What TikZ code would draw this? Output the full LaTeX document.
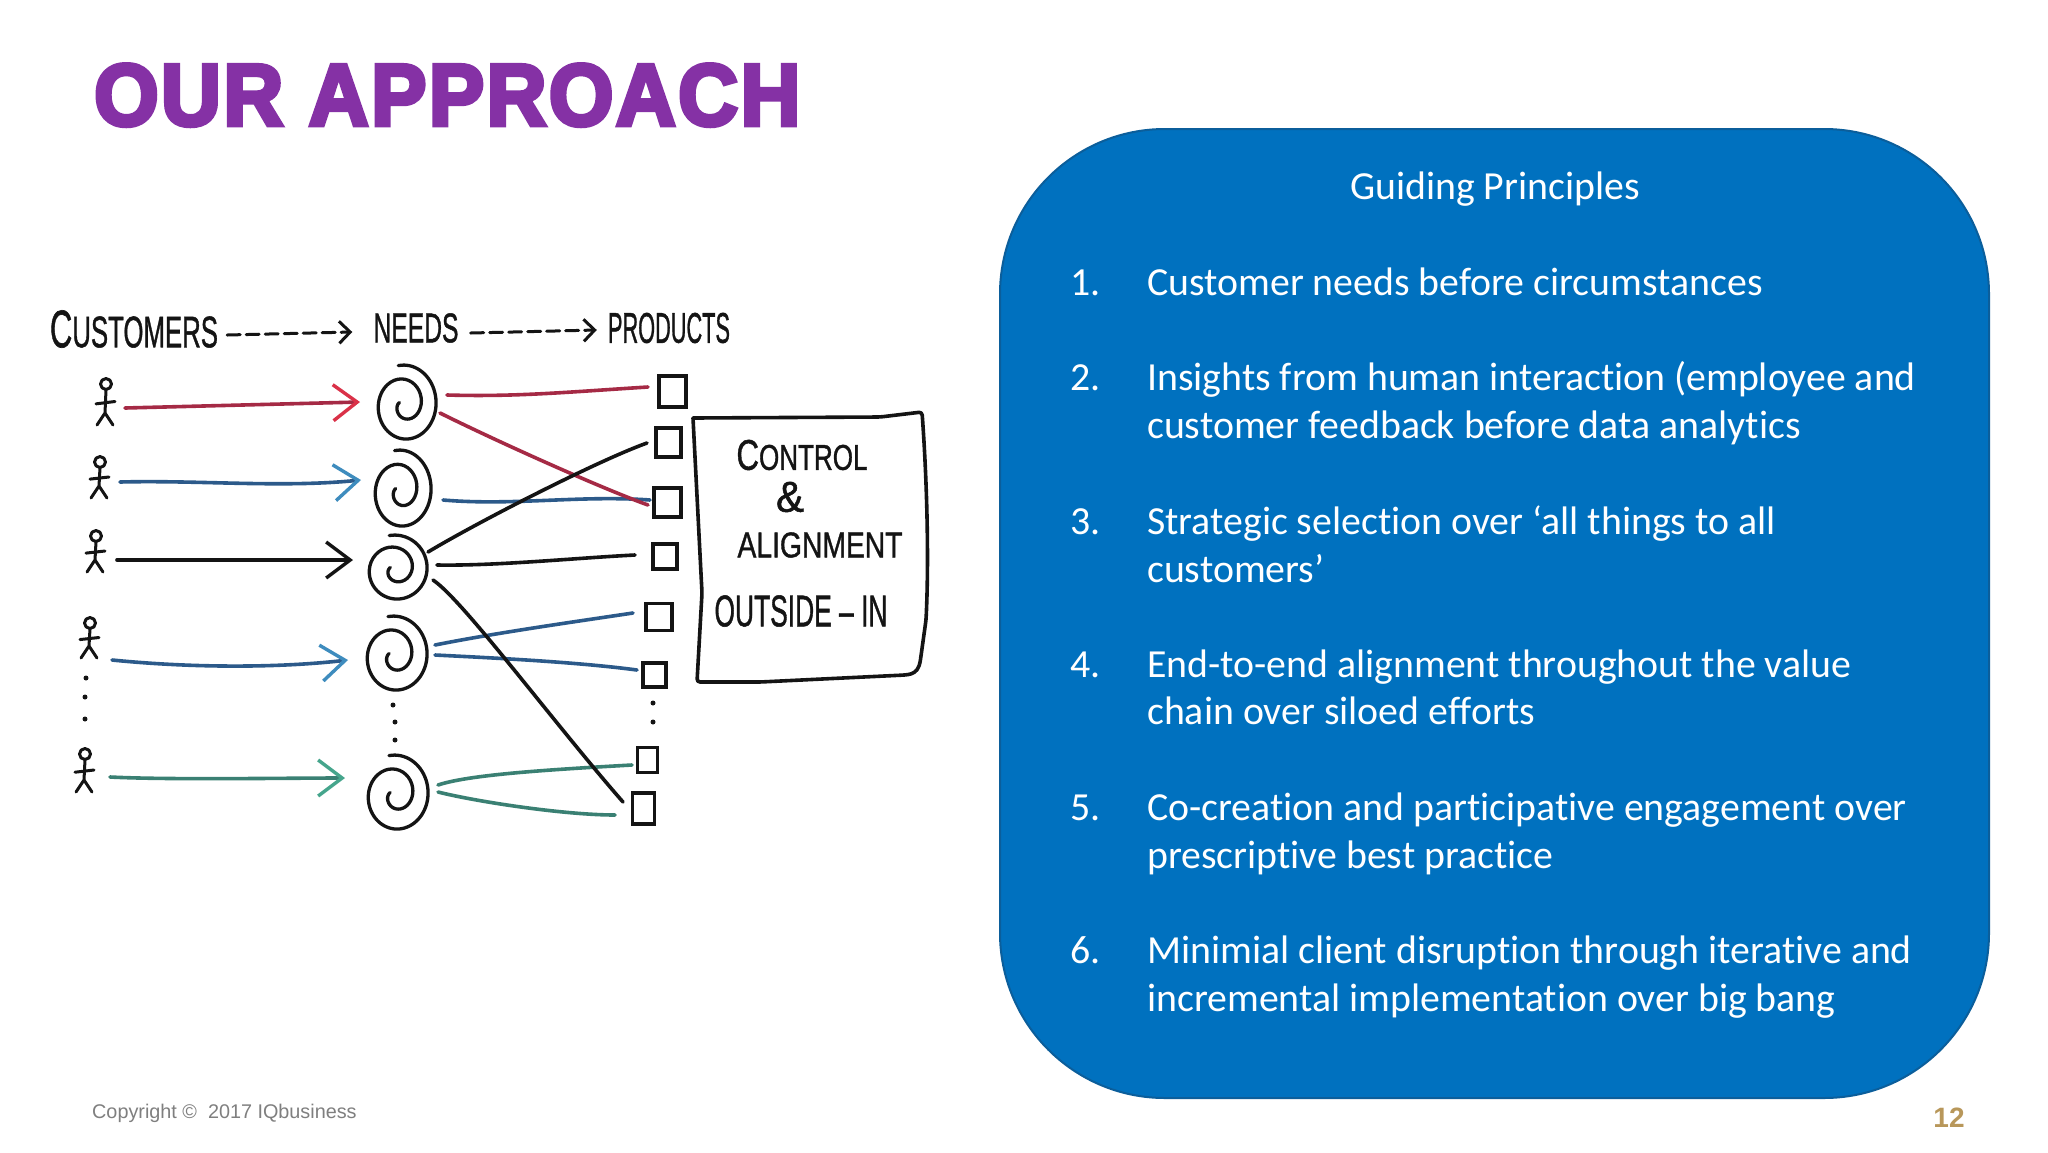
\documentclass[tikz,border=0pt]{standalone}
\usepackage{fontspec}
\usepackage{graphicx}
\usetikzlibrary{arrows.meta,calc}
\setmainfont[Ligatures=NoCommon,Contextuals=NoAlternate]{Carlito}
\newfontfamily\titlefont[FakeBold=5,LetterSpace=3]{Liberation Sans Bold}
\newfontfamily\handfont[FakeBold=1.2]{Liberation Sans}
\newfontfamily\arialfont{Liberation Sans}
\definecolor{titlepurple}{HTML}{8531A5}
\definecolor{panelblue}{HTML}{0071BF}
\definecolor{paneledge}{HTML}{0B5E9B}
\definecolor{inkblack}{HTML}{141414}
\definecolor{inkred}{HTML}{A52A45}
\definecolor{inkredhi}{HTML}{DA3148}
\definecolor{inkblue}{HTML}{2C5A8A}
\definecolor{inkbluehi}{HTML}{3E8CBE}
\definecolor{inkgreen}{HTML}{3A8073}
\definecolor{inkgreenhi}{HTML}{45A58C}
\definecolor{copygrey}{HTML}{7F7F7F}
\definecolor{pagetan}{HTML}{B8975A}
\tikzset{
  ink/.style={draw=inkblack,line width=3pt,line cap=round,line join=round},
  inkthin/.style={draw=inkblack,line width=3pt,line cap=round,line join=round},
  conn/.style={line width=3.6pt,line cap=round},
  harrow/.style={conn,-{Straight Barb[length=24pt,width=36pt,line width=3.4pt,color=#1]}},
  body/.style={anchor=base west,text=white,font=\fontsize{39.8}{46}\selectfont,inner sep=0pt},
  hand/.style={anchor=center,text=inkblack,inner sep=0pt,font=\handfont},
  prod/.style={draw=inkblack,line width=3.2pt,rectangle,inner sep=0pt},
  dotmark/.style={circle,fill=inkblack,inner sep=0pt,minimum size=5pt},
  dasharrow/.style={inkthin,dash pattern=on 13pt off 6pt,-{Straight Barb[length=11pt,width=22pt,line width=3pt,color=inkblack]}}
}
% cx, cy = centre of the spiral's extent; rx, ry = half extents
\newcommand{\spiralat}[4]{%
  \draw[ink,line width=3.3pt,smooth,samples=70,domain=-100:560,variable=\t]
    plot ({#1-0.1*#3+1.16*#3*(1-0.85*((\t+100)/660)*sqrt((\t+100)/660))*cos(\t)},
          {#2+0.07*#4+1.07*#4*(1-0.85*((\t+100)/660)*sqrt((\t+100)/660))*sin(\t)});}
\newcommand{\personat}[3]{%
  % x, y top, y foot
  \draw[inkthin] (#1,#2+6) circle[radius=5.5pt];
  \draw[inkthin] (#1,#2+12) -- (#1-1,#3-12)
    (#1-1,#3-12) -- (#1-9,#3) (#1-1,#3-12) -- (#1+7,#3)
    (#1-10,{#2+(#3-#2)*0.55}) -- (#1+9,{#2+(#3-#2)*0.5});}
\begin{document}
\begin{tikzpicture}[x=1pt,y=-1pt]
\useasboundingbox (0,0) rectangle (2048,1152);
\fill[white] (0,0) rectangle (2048,1152);

% title
\node[anchor=north west,inner sep=0pt,text=titlepurple] (title) at (94,64)
  {\resizebox{706pt}{61pt}{\titlefont OUR APPROACH}};

% panel
\draw[fill=panelblue,draw=paneledge,line width=2pt,rounded corners=165pt]
  (1000,129) rectangle (1989,1098);
\node[anchor=base,text=white,font=\fontsize{39.8}{46}\selectfont,inner sep=0pt] (gp) at (1495,199.5) {Guiding Principles};
\node[body] (n1) at (1070,295) {1.};
\node[body] (t1) at (1147,295) {Customer needs before circumstances};
\node[body] (n2) at (1070,390) {2.};
\node[body] (t2a) at (1147,390) {Insights from human interaction (employee and};
\node[body] (t2b) at (1147,438) {customer feedback before data analytics};
\node[body] (n3) at (1070,534) {3.};
\node[body] (t3a) at (1147,534) {Strategic selection over ‘all things to all};
\node[body] (t3b) at (1147,582) {customers’};
\node[body] (n4) at (1070,677) {4.};
\node[body] (t4a) at (1147,677) {End-to-end alignment throughout the value};
\node[body] (t4b) at (1147,724) {chain over siloed efforts};
\node[body] (n5) at (1070,820) {5.};
\node[body] (t5a) at (1147,820) {Co-creation and participative engagement over};
\node[body] (t5b) at (1147,868) {prescriptive best practice};
\node[body] (n6) at (1070,963) {6.};
\node[body] (t6a) at (1147,963) {Minimial client disruption through iterative and};
\node[body] (t6b) at (1147,1011) {incremental implementation over big bang};

% footer
\node[anchor=base west,inner sep=0pt,text=copygrey,font=\arialfont\fontsize{19.8}{24}\selectfont] (copy) at (92,1118) {Copyright ©\ \ 2017 IQbusiness};
\node[anchor=center,inner sep=0pt,text=pagetan,font=\arialfont\bfseries\fontsize{28}{32}\selectfont] (page) at (1949,1118) {12};

% headings
\node[hand] (hc) at (134,329) {\resizebox{168pt}{37pt}{{\large C}USTOMERS}};
\node[hand] (hn) at (416,328) {\resizebox{85pt}{29pt}{NEEDS}};
\node[hand] (hp) at (669,328) {\resizebox{122pt}{30pt}{PRODUCTS}};
\draw[dasharrow] ($(hc.east)+(9,6)$) -- ($(hn.west)+(-21,4)$);
\draw[dasharrow] ($(hn.east)+(12,5)$) -- ($(hp.west)+(-11,2)$);

% customers
\personat{106}{378}{425}
\personat{100}{456}{498}
\personat{96}{530}{572}
\personat{90}{617}{658}
\personat{85}{748}{792}
\node[dotmark] (cd1) at (86,678) {};
\node[dotmark] (cd2) at (85,697) {};
\node[dotmark] (cd3) at (85,719) {};
\coordinate (c1) at (125,408);
\coordinate (c2) at (120,482);
\coordinate (c3) at (117,560);
\coordinate (c4) at (112,660);
\coordinate (c5) at (110,777);

% needs
\spiralat{407}{402}{29}{37}
\spiralat{403}{488}{28}{38}
\spiralat{398}{567}{29}{32}
\spiralat{397}{653}{30}{37}
\spiralat{398}{792}{30}{37}
\coordinate (a1) at (360,402);
\coordinate (a2) at (361,480);
\coordinate (a3) at (353,560);
\coordinate (a4) at (348,660);
\coordinate (a5) at (345,778);
\node[dotmark] (nd1) at (393,705) {};
\node[dotmark] (nd2) at (395,722) {};
\node[dotmark] (nd3) at (395,740) {};

% arrows customers to needs
\draw[harrow=inkredhi,draw=inkred] (c1) -- (a1);
\draw[harrow=inkbluehi,draw=inkblue] (c2) .. controls +(80,-2) and +(-80,8) .. (a2);
\draw[harrow=inkblack,draw=inkblack] (c3) -- (a3);
\draw[harrow=inkbluehi,draw=inkblue] (c4) .. controls +(80,8) and +(-70,8) .. (a4);
\draw[harrow=inkgreenhi,draw=inkgreen] (c5) .. controls +(60,3) and +(-60,0) .. (a5);

% products
\node[prod,minimum width=27pt,minimum height=31pt] (p1) at (672.5,391.5) {};
\node[prod,minimum width=25pt,minimum height=29pt] (p2) at (668.5,442.5) {};
\node[prod,minimum width=27pt,minimum height=29pt] (p3) at (667.5,502.5) {};
\node[prod,minimum width=24pt,minimum height=25pt] (p4) at (665,556.5) {};
\node[prod,minimum width=26pt,minimum height=27pt] (p5) at (659,617) {};
\node[prod,minimum width=23pt,minimum height=24pt] (p6) at (654.5,675) {};
\node[prod,minimum width=20pt,minimum height=25pt] (p7) at (647.5,760) {};
\node[prod,minimum width=22pt,minimum height=31pt] (p8) at (643.5,808.5) {};
\node[dotmark] (pd1) at (653,703) {};
\node[dotmark] (pd2) at (653,722) {};

% connector ends
\coordinate (r1s) at (447,395);
\coordinate (r1e) at (648,387);
\coordinate (r2s) at (440,413);
\coordinate (r2e) at (648,505);
\coordinate (b2s) at (443,500);
\coordinate (b2e) at (650,500);
\coordinate (k1s) at (428,552);
\coordinate (k1e) at (647,443);
\coordinate (k2s) at (437,565);
\coordinate (k2e) at (635,555);
\coordinate (k3s) at (433,580);
\coordinate (k3e) at (623,802);
\coordinate (b3s) at (435,645);
\coordinate (b3e) at (633,613);
\coordinate (b4s) at (435,655);
\coordinate (b4e) at (637,670);
\coordinate (g1s) at (438,785);
\coordinate (g1e) at (632,765);
\coordinate (g2s) at (438,792);
\coordinate (g2e) at (615,815);

\draw[conn,inkred] (r1s) .. controls +(70,2) and +(-80,5) .. (r1e);
\draw[conn,inkblue] (b2s) .. controls +(70,6) and +(-70,-5) .. (b2e);
\draw[conn,inkred] (r2s) .. controls +(50,25) and +(-50,-18) .. (r2e);
\draw[conn,inkblack] (k1s) .. controls +(50,-30) and +(-50,18) .. (k1e);
\draw[conn,inkblack] (k2s) .. controls +(60,1) and +(-60,3) .. (k2e);
\draw[conn,inkblue] (b3s) .. controls +(60,-12) and +(-60,9) .. (b3e);
\draw[conn,inkblue] (b4s) .. controls +(60,3) and +(-60,-8) .. (b4e);
\draw[conn,inkgreen] (g1s) .. controls +(30,-10) and +(-90,5) .. (g1e);
\draw[conn,inkgreen] (g2s) .. controls +(40,10) and +(-50,0) .. (g2e);
\draw[conn,inkblack] (k3s) .. controls +(30,20) and +(-70,-80) .. (k3e);

% control box
\draw[ink,line width=3.6pt,rounded corners=3pt] (693,418) -- (880,417) -- (922,412)
  .. controls (927,480) and (929,560) .. (926,620) -- (920,663)
  .. controls (917,672) and (912,674) .. (905,675) -- (760,682) -- (697,682)
  -- (702,593) -- (693,418);
\node[hand] (bx1) at (802,455) {\resizebox{131pt}{30pt}{{\large C}ONTROL}};
\node[hand] (bx2) at (790,497) {\resizebox{28pt}{30pt}{\&}};
\node[hand] (bx3) at (820,545) {\resizebox{165pt}{25pt}{ALIGNMENT}};
\node[hand] (bx4) at (801,611) {\resizebox{173pt}{31pt}{OUTSIDE – IN}};
\end{tikzpicture}
\end{document}
